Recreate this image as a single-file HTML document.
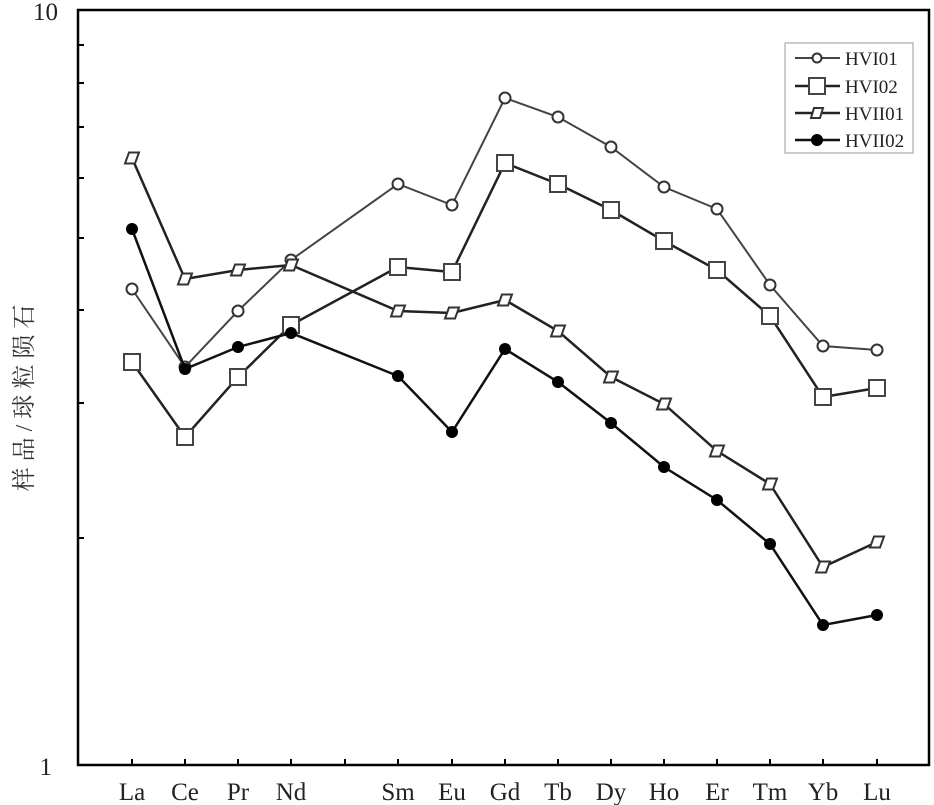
<!DOCTYPE html>
<html><head><meta charset="utf-8"><style>body{margin:0;background:#fff}svg{display:block}</style></head><body>
<svg width="934" height="805" xmlns="http://www.w3.org/2000/svg" font-family="Liberation Serif, Noto Serif CJK SC, serif">
<rect x="78" y="10" width="851" height="755" fill="none" stroke="#000" stroke-width="2.5"/>
<g stroke="#000" stroke-width="2">
<line x1="78" y1="45" x2="84" y2="45"/><line x1="78" y1="83" x2="84" y2="83"/><line x1="78" y1="127" x2="84" y2="127"/><line x1="78" y1="178" x2="84" y2="178"/><line x1="78" y1="238" x2="84" y2="238"/><line x1="78" y1="310" x2="84" y2="310"/><line x1="78" y1="403" x2="84" y2="403"/><line x1="78" y1="538" x2="84" y2="538"/>
<line x1="132" y1="765" x2="132" y2="759"/><line x1="185" y1="765" x2="185" y2="759"/><line x1="238" y1="765" x2="238" y2="759"/><line x1="291" y1="765" x2="291" y2="759"/><line x1="345" y1="765" x2="345" y2="759"/><line x1="398" y1="765" x2="398" y2="759"/><line x1="452" y1="765" x2="452" y2="759"/><line x1="505" y1="765" x2="505" y2="759"/><line x1="558" y1="765" x2="558" y2="759"/><line x1="611" y1="765" x2="611" y2="759"/><line x1="664" y1="765" x2="664" y2="759"/><line x1="717" y1="765" x2="717" y2="759"/><line x1="770" y1="765" x2="770" y2="759"/><line x1="823" y1="765" x2="823" y2="759"/><line x1="877" y1="765" x2="877" y2="759"/>
</g>
<g font-size="25" fill="#222">
<text x="58" y="20" text-anchor="end">10</text>
<text x="52" y="775" text-anchor="end">1</text>
<g text-anchor="middle">
<text x="132" y="800">La</text><text x="185" y="800">Ce</text><text x="238" y="800">Pr</text><text x="291" y="800">Nd</text><text x="398" y="800">Sm</text><text x="452" y="800">Eu</text><text x="505" y="800">Gd</text><text x="558" y="800">Tb</text><text x="611" y="800">Dy</text><text x="664" y="800">Ho</text><text x="717" y="800">Er</text><text x="770" y="800">Tm</text><text x="823" y="800">Yb</text><text x="877" y="800">Lu</text>
</g>
</g>
<text transform="translate(32,395) rotate(-90)" text-anchor="middle" font-size="24" fill="#333" letter-spacing="6">样品/球粒陨石</text>
<polyline fill="none" stroke="#444" stroke-width="2" points="132,289 185,367 238,311 291,260 398,184 452,205 505,98 558,117 611,147 664,187 717,209 770,285 823,346 877,350"/>
<g fill="#fff" stroke="#333" stroke-width="2">
<circle cx="132" cy="289" r="5.5"/><circle cx="185" cy="367" r="5.5"/><circle cx="238" cy="311" r="5.5"/><circle cx="291" cy="260" r="5.5"/><circle cx="398" cy="184" r="5.5"/><circle cx="452" cy="205" r="5.5"/><circle cx="505" cy="98" r="5.5"/><circle cx="558" cy="117" r="5.5"/><circle cx="611" cy="147" r="5.5"/><circle cx="664" cy="187" r="5.5"/><circle cx="717" cy="209" r="5.5"/><circle cx="770" cy="285" r="5.5"/><circle cx="823" cy="346" r="5.5"/><circle cx="877" cy="350" r="5.5"/>
</g>
<polyline fill="none" stroke="#222" stroke-width="2.5" points="132,362 185,437 238,377 291,325 398,267 452,272 505,163 558,184 611,210 664,241 717,270 770,316 823,397 877,388"/>
<g fill="#fff" stroke="#444" stroke-width="2">
<rect x="124" y="354" width="16" height="16"/><rect x="177" y="429" width="16" height="16"/><rect x="230" y="369" width="16" height="16"/><rect x="283" y="317" width="16" height="16"/><rect x="390" y="259" width="16" height="16"/><rect x="444" y="264" width="16" height="16"/><rect x="497" y="155" width="16" height="16"/><rect x="550" y="176" width="16" height="16"/><rect x="603" y="202" width="16" height="16"/><rect x="656" y="233" width="16" height="16"/><rect x="709" y="262" width="16" height="16"/><rect x="762" y="308" width="16" height="16"/><rect x="815" y="389" width="16" height="16"/><rect x="869" y="380" width="16" height="16"/>
</g>
<polyline fill="none" stroke="#222" stroke-width="2.5" points="132,158 185,279 238,270 291,265 398,311 452,313 505,300 558,331 611,377 664,404 717,451 770,484 823,567 877,542"/>
<g fill="#fff" stroke="#333" stroke-width="2">
<path d="M-3,-5.5 L7,-5.5 L3,5.5 L-7,5.5 Z" transform="translate(132,158)"/>
<path d="M-3,-5.5 L7,-5.5 L3,5.5 L-7,5.5 Z" transform="translate(185,279)"/><path d="M-3,-5.5 L7,-5.5 L3,5.5 L-7,5.5 Z" transform="translate(238,270)"/><path d="M-3,-5.5 L7,-5.5 L3,5.5 L-7,5.5 Z" transform="translate(291,265)"/><path d="M-3,-5.5 L7,-5.5 L3,5.5 L-7,5.5 Z" transform="translate(398,311)"/><path d="M-3,-5.5 L7,-5.5 L3,5.5 L-7,5.5 Z" transform="translate(452,313)"/><path d="M-3,-5.5 L7,-5.5 L3,5.5 L-7,5.5 Z" transform="translate(505,300)"/><path d="M-3,-5.5 L7,-5.5 L3,5.5 L-7,5.5 Z" transform="translate(558,331)"/><path d="M-3,-5.5 L7,-5.5 L3,5.5 L-7,5.5 Z" transform="translate(611,377)"/><path d="M-3,-5.5 L7,-5.5 L3,5.5 L-7,5.5 Z" transform="translate(664,404)"/><path d="M-3,-5.5 L7,-5.5 L3,5.5 L-7,5.5 Z" transform="translate(717,451)"/><path d="M-3,-5.5 L7,-5.5 L3,5.5 L-7,5.5 Z" transform="translate(770,484)"/><path d="M-3,-5.5 L7,-5.5 L3,5.5 L-7,5.5 Z" transform="translate(823,567)"/><path d="M-3,-5.5 L7,-5.5 L3,5.5 L-7,5.5 Z" transform="translate(877,542)"/>
</g>
<polyline fill="none" stroke="#111" stroke-width="2.5" points="132,229 185,369 238,347 291,333 398,376 452,432 505,349 558,382 611,423 664,467 717,500 770,544 823,625 877,615"/>
<g fill="#000">
<circle cx="132" cy="229" r="6"/><circle cx="185" cy="369" r="6"/><circle cx="238" cy="347" r="6"/><circle cx="291" cy="333" r="6"/><circle cx="398" cy="376" r="6"/><circle cx="452" cy="432" r="6"/><circle cx="505" cy="349" r="6"/><circle cx="558" cy="382" r="6"/><circle cx="611" cy="423" r="6"/><circle cx="664" cy="467" r="6"/><circle cx="717" cy="500" r="6"/><circle cx="770" cy="544" r="6"/><circle cx="823" cy="625" r="6"/><circle cx="877" cy="615" r="6"/>
</g>
<rect x="785" y="43" width="128" height="110" fill="#fff" stroke="#999" stroke-width="1"/>
<g font-size="19" fill="#222">
<line x1="795" y1="58" x2="840" y2="58" stroke="#444" stroke-width="2"/><circle cx="817" cy="58" r="4.5" fill="#fff" stroke="#333" stroke-width="2"/><text x="845" y="65">HVI01</text>
<line x1="795" y1="86" x2="840" y2="86" stroke="#222" stroke-width="2.5"/><rect x="809" y="78" width="16" height="16" fill="#fff" stroke="#444" stroke-width="2"/><text x="845" y="93">HVI02</text>
<line x1="795" y1="113" x2="840" y2="113" stroke="#222" stroke-width="2.5"/><path d="M-3,-5 L6,-5 L3,5 L-6,5 Z" transform="translate(817,113)" fill="#fff" stroke="#333" stroke-width="2"/><text x="845" y="120">HVII01</text>
<line x1="795" y1="140" x2="840" y2="140" stroke="#111" stroke-width="2.5"/><circle cx="817" cy="140" r="6" fill="#000"/><text x="845" y="147">HVII02</text>
</g>
</svg>
</body></html>
